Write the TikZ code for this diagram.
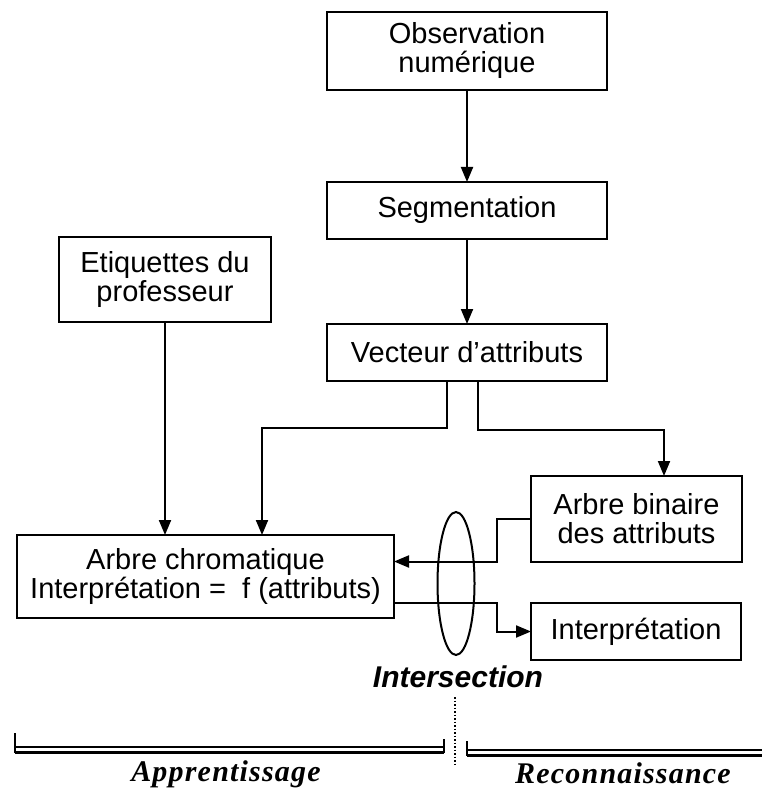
\documentclass[tikz,border=0pt]{standalone}
\usepackage{fontspec}
\setmainfont{Liberation Sans}
\newfontfamily\phasefont[LetterSpace=4]{Liberation Serif}
\usetikzlibrary{arrows.meta}
\tikzset{
    boite/.style={draw, line width=2pt, inner sep=0pt, outer sep=0pt, align=center,
        font=\fontsize{29}{29}\selectfont},
    fleche/.style={line width=2pt, -{Triangle[length=15pt,width=12pt]}},
    phase/.style={font=\phasefont\fontsize{30}{30}\selectfont\bfseries\itshape, anchor=base}
}
\begin{document}
\begin{tikzpicture}[x=1pt, y=-1pt]
        \useasboundingbox (0,0) rectangle (762,791);
        % les boites
        \node[boite, minimum width=280pt, minimum height=78pt] (obs) at (467,51) {Observation\\num\'erique};
        \node[boite, minimum width=280pt, minimum height=57pt] (seg) at (467,210.5) {Segmentation};
        \node[boite, minimum width=280pt, minimum height=57pt] (vec) at (467,352.5) {Vecteur d'attributs};
        \node[boite, minimum width=212pt, minimum height=85pt] (etiq) at (165,279.5) {Etiquettes du\\professeur};
        \node[boite, minimum width=211pt, minimum height=86pt] (bin) at (636.5,519) {Arbre binaire\\des attributs};
        \node[boite, minimum width=377pt, minimum height=83pt] (chrom) at (205.5,576.5) {Arbre chromatique\\Interpr\'etation =\; f (attributs)};
        \node[boite, minimum width=210pt, minimum height=57pt] (interp) at (636,631.5) {Interpr\'etation};
        % les fleches
        \draw[fleche] (obs.south) -- (seg.north);
        \draw[fleche] (seg.south) -- (vec.north);
        \draw[fleche] (etiq.south) -- (etiq.south |- chrom.north);
        \draw[fleche] ([xshift=-20pt]vec.south) -- ++(0,47) -| ([xshift=56.5pt]chrom.north);
        \draw[fleche] ([xshift=11pt]vec.south) -- ++(0,49) -| ([xshift=27.5pt]bin.north);
        \draw[fleche] (bin.west) -- ([xshift=-34pt]bin.west) |- ([yshift=15pt]chrom.east);
        \draw[fleche] ([yshift=-26pt]chrom.east) -| ([xshift=-34pt]interp.west) -- (interp.west);
        % intersection
        \draw[line width=2pt] (456,583.5) ellipse (18.5 and 71.5);
        \node[font=\fontsize{30}{32}\selectfont\bfseries\itshape, anchor=base] (inter) at (458,687) {Intersection};
        \coordinate (sep1) at (455,697);
        \coordinate (sep2) at (455,765);
        \draw[line width=1.5pt, dotted] (sep1) -- (sep2);
        % les deux phases
        \draw[line width=1.8pt] (15,733) -- (15,753);
        \draw[line width=1.8pt] (444,739) -- (444,753);
        \draw[line width=1.8pt] (15,747) -- (444,747);
        \draw[line width=3pt] (15,752.5) -- (444,752.5);
        \draw[line width=1.8pt] (467,741) -- (467,756);
        \draw[line width=1.8pt] (467,750) -- (762,750);
        \draw[line width=3pt] (467,755.5) -- (762,755.5);
        \node[phase] (app) at (226,781) {Apprentissage};
        \node[phase] (rec) at (623,783) {Reconnaissance};
    \end{tikzpicture}
\end{document}
